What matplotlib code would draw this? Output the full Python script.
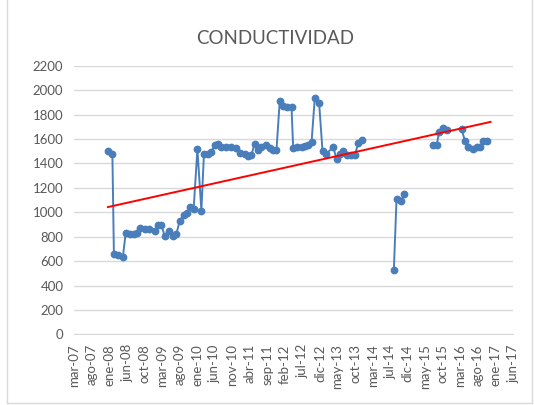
import numpy as np
import pandas as pd
import matplotlib
matplotlib.use("Agg")
import matplotlib.pyplot as plt
from matplotlib.lines import Line2D

# data
seg1_dates = ['2007-12-21', '2008-01-28', '2008-02-10', '2008-03-16', '2008-04-27',
              '2008-05-21', '2008-06-24', '2008-07-28', '2008-08-25', '2008-09-17',
              '2008-10-30', '2008-12-06', '2009-01-24', '2009-02-21', '2009-03-22',
              '2009-04-19', '2009-05-26', '2009-06-29', '2009-07-28', '2009-08-25',
              '2009-09-29', '2009-10-27', '2009-11-25', '2009-12-23', '2010-01-24',
              '2010-02-27', '2010-03-21', '2010-04-25', '2010-05-24', '2010-06-21',
              '2010-07-19', '2010-08-17', '2010-09-29', '2010-11-11', '2010-12-24',
              '2011-01-21', '2011-03-04', '2011-04-02', '2011-05-01', '2011-05-29',
              '2011-06-26', '2011-07-25', '2011-08-31', '2011-10-04', '2011-11-02',
              '2011-12-01', '2011-12-29', '2012-01-26', '2012-02-29', '2012-04-08',
              '2012-04-22', '2012-05-21', '2012-07-03', '2012-07-31', '2012-08-28',
              '2012-09-26', '2012-10-24', '2012-11-30', '2012-12-29', '2013-02-01',
              '2013-03-30', '2013-04-28', '2013-05-26', '2013-06-25', '2013-07-25',
              '2013-08-28', '2013-10-01', '2013-10-31', '2013-11-30']
seg1_vals = [1505, 1480, 660, 648, 638,
             832, 826, 826, 832, 872,
             867, 867, 845, 899, 899,
             804, 845, 804, 823, 926,
             981, 995, 1041, 1028, 1518,
             1014, 1478, 1478, 1491, 1553,
             1559, 1531, 1534, 1534, 1526,
             1486, 1480, 1458, 1472, 1562,
             1513, 1534, 1553, 1526, 1507,
             1507, 1908, 1872, 1862, 1862,
             1526, 1534, 1534, 1540, 1553,
             1572, 1935, 1894, 1499, 1480,
             1534, 1437, 1480, 1505, 1472,
             1465, 1465, 1567, 1590]

seg2_dates = ['2014-08-31', '2014-09-23', '2014-10-30', '2014-11-27']
seg2_vals = [531, 1110, 1090, 1150]

seg3_dates = ['2015-08-02', '2015-08-31', '2015-09-23', '2015-10-27', '2015-11-30']
seg3_vals = [1548, 1548, 1657, 1690, 1676]

seg4_dates = ['2016-04-01', '2016-04-29', '2016-05-28', '2016-07-04',
              '2016-08-07', '2016-09-05', '2016-10-03', '2016-11-01']
seg4_vals = [1684, 1586, 1531, 1521, 1531, 1531, 1580, 1580]

trend_dates = ['2007-12-21', '2016-12-05']
trend_vals = [1043, 1740]

MESES = ['ene', 'feb', 'mar', 'abr', 'may', 'jun',
         'jul', 'ago', 'sep', 'oct', 'nov', 'dic']

# Excel-style date axis: a tick every 150 days
AXIS_START = pd.Timestamp('2007-03-10')
TICK_STEP_DAYS = 150
N_TICKS = 26

plt.rcParams['font.family'] = ['Lato', 'DejaVu Sans']

fig = plt.figure(figsize=(5.34, 4.05), dpi=100)
# chart frame (left, right, bottom edges visible in the screenshot)
W, H = 534, 405
for xs, ys in [([7, 7], [0, 403]), ([532, 532], [0, 403]), ([7, 532], [403, 403])]:
    fig.lines.append(Line2D([x / W for x in xs], [1 - y / H for y in ys],
                            transform=fig.transFigure, color='#D9D9D9', linewidth=1))

ax = fig.add_axes([0.1395, 0.1741, 0.8212, 0.6637])

blue = '#4A7EBB'
for d, v in [(seg1_dates, seg1_vals), (seg2_dates, seg2_vals),
             (seg3_dates, seg3_vals), (seg4_dates, seg4_vals)]:
    ax.plot(pd.to_datetime(d), v, color=blue, linewidth=1.4, marker='o',
            markersize=4.6, zorder=3)

ax.plot(pd.to_datetime(trend_dates), trend_vals, color='#FF0000', linewidth=1.4, zorder=4)

ticks = [AXIS_START + pd.Timedelta(days=TICK_STEP_DAYS * i) for i in range(N_TICKS)]
ax.set_xlim(ticks[0], ticks[-1])
ax.set_xticks(ticks)
ax.set_xticklabels([f"{MESES[t.month - 1]}-{t.year % 100:02d}" for t in ticks],
                   rotation=90, fontsize=9.5, color='#595959')

ax.set_ylim(0, 2200)
ax.set_yticks(np.arange(0, 2201, 200))
ax.tick_params(axis='y', labelsize=9.5, labelcolor='#595959', length=0, pad=8)
ax.tick_params(axis='x', length=0, pad=7)
ax.grid(axis='y', color='#D9D9D9', linewidth=1)
ax.set_axisbelow(True)
for s in ['top', 'right', 'left']:
    ax.spines[s].set_visible(False)
ax.spines['bottom'].set_color('#D9D9D9')

fig.text(0.515, 0.905, 'CONDUCTIVIDAD', ha='center', va='center', fontsize=13.5, color='#595959')

fig.savefig('out.png', dpi=100)
